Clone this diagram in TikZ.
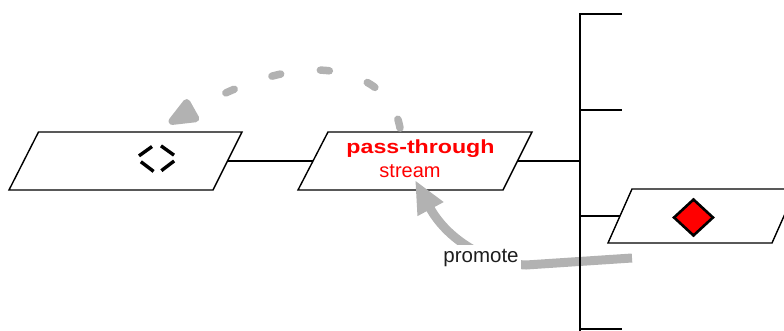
\documentclass[tikz,border=0pt]{standalone}
\usepackage{fontspec}
\usepackage{graphicx}
\setmainfont{Liberation Sans}
\usetikzlibrary{shapes.geometric,arrows.meta}
\definecolor{arrowgray}{RGB}{178,178,178}
\definecolor{textdark}{RGB}{30,30,30}
\begin{document}
\begin{tikzpicture}[x=1pt,y=-1pt,
  pbox/.style={draw=black, line width=1.4pt, fill=white, line join=miter},
  link/.style={draw=black, line width=1.4pt},
  grayarrow/.style={draw=arrowgray, line width=9pt,
    -{Triangle[length=33pt,width=27pt]}},
  graydash/.style={draw=arrowgray, line width=7.5pt, line cap=round,
    dash pattern=on 9pt off 40pt,
    -{Triangle[length=36pt,width=27pt,round=false]}},
  hollowdia/.style={draw=black, line width=3.4pt, dash pattern=on 16pt off 9.8pt, dash phase=20.9pt},
  reddia/.style={shape=diamond, draw=black, fill=red, line width=2.6pt,
    minimum width=40pt, minimum height=37pt, inner sep=0pt},
  bigred/.style={text=red, font=\bfseries\fontsize{19}{21}\selectfont, anchor=base, inner sep=0pt},
  smallred/.style={text=red, font=\fontsize{20}{22}\selectfont, anchor=base, inner sep=0pt},
  lbl/.style={text=textdark, font=\fontsize{20.5}{22}\selectfont, anchor=base, fill=white, inner xsep=2pt, inner ysep=4pt}
]
\useasboundingbox (0,0) rectangle (784,330);

% boxes (parallelograms)
\draw[pbox] (38.5,132) -- (242,132) -- (213,190) -- (9,190) -- cycle;
\draw[pbox] (328,132) -- (532,132) -- (503,190) -- (298,190) -- cycle;
\draw[pbox] (632,189) -- (796,189) -- (772,243) -- (608,243) -- cycle;
\coordinate (lE) at (227.5,161);
\coordinate (mW) at (313,161);
\coordinate (mE) at (517.5,161);
\coordinate (rW) at (620,216);

% hollow dashed diamond
\draw[hollowdia] (157,143) -- (178,158) -- (157,174) -- (136,158) -- cycle;

% red diamond
\node[reddia] (rd) at (693.5,217.5) {};

% texts
\node[bigred] (pt) at (420.5,153) {\scalebox{1.22}[1]{pass-through}};
\node[smallred] (st) at (410,177) {stream};

% promote arrow
\coordinate (pStart) at (632,258);
\coordinate (pMid) at (526,265);
\coordinate (pTip) at (415,180);
\draw[grayarrow] (pStart) -- (pMid) .. controls (482,263) and (445,236) .. (pTip);
\node[lbl] (promote) at (481,262) {promote};

% dashed arc
\coordinate (aStart) at (400,128);
\coordinate (aEnd) at (169,123);
\draw[graydash] (aStart) .. controls (393,88) and (355,70) .. (315,70)
  .. controls (265,70) and (210,100) .. (aEnd);

% spine and ticks
\coordinate (sTop) at (580,14);
\coordinate (sBot) at (580,332);
\coordinate (t1) at (622,14);
\coordinate (s2) at (580,110);
\coordinate (t2) at (622,110);
\coordinate (s4) at (580,329);
\coordinate (t4) at (622,329);
\draw[link] (t1) -- (sTop) -- (sBot);
\draw[link] (s2) -- (t2);
\draw[link] (s4) -- (t4);
\draw[link] (lE) -- (mW);
\draw[link] (mE) -- (mE -| sTop);
\draw[link] (rW -| sTop) -- (rW);
\end{tikzpicture}
\end{document}
